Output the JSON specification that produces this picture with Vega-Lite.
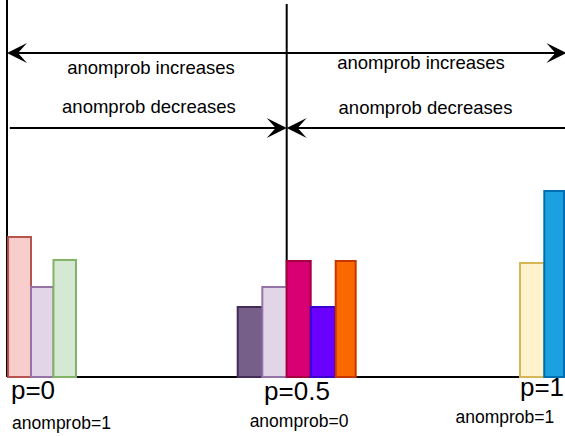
{
  "$schema": "https://vega.github.io/schema/vega-lite/v6.json",
  "width": 565,
  "height": 436,
  "padding": 0,
  "autosize": {"type": "none"},
  "background": "white",
  "config": {"view": {"stroke": null}},
  "datasets": {
    "lines": [
      {"x": 0, "x2": 0, "y": 0, "y2": 380},
      {"x": 0.5, "x2": 0.5, "y": 0, "y2": 373},
      {"x": 0, "x2": 1, "y": 0, "y2": 0},
      {"x": 0.015, "x2": 0.985, "y": 324, "y2": 324},
      {"x": 0.005, "x2": 0.485, "y": 249, "y2": 249},
      {"x": 0.515, "x2": 1, "y": 249, "y2": 249}
    ],
    "bars": [
      {"bar": "b1", "x": 0.002, "x2": 0.0429, "h": 140},
      {"bar": "b2", "x": 0.0429, "x2": 0.0831, "h": 90},
      {"bar": "b3", "x": 0.0831, "x2": 0.1233, "h": 117},
      {"bar": "b4", "x": 0.4124, "x2": 0.4564, "h": 70},
      {"bar": "b5", "x": 0.4564, "x2": 0.5, "h": 90},
      {"bar": "b6", "x": 0.5, "x2": 0.5429, "h": 116},
      {"bar": "b7", "x": 0.5429, "x2": 0.5863, "h": 70},
      {"bar": "b8", "x": 0.5876, "x2": 0.6233, "h": 116},
      {"bar": "b9", "x": 0.9171, "x2": 0.9605, "h": 114},
      {"bar": "b10", "x": 0.9605, "x2": 0.9957, "h": 186}
    ],
    "headsRight": [
      {"x": 1, "y": 324},
      {"x": 0.5, "y": 249}
    ],
    "headsLeft": [
      {"x": 0, "y": 324},
      {"x": 0.5, "y": 249}
    ],
    "topText": [
      {"label": "anomprob increases", "x": 0.2574, "y": 303},
      {"label": "anomprob increases", "x": 0.7401, "y": 308},
      {"label": "anomprob decreases", "x": 0.2538, "y": 264},
      {"label": "anomprob decreases", "x": 0.7481, "y": 263}
    ],
    "pText": [
      {"label": "p=0", "x": 0.0465, "y": -22},
      {"label": "p=0.5", "x": 0.5184, "y": -23},
      {"label": "p=1", "x": 0.9564, "y": -19}
    ],
    "aText": [
      {"label": "anomprob=1", "x": 0.0974, "y": -52},
      {"label": "anomprob=0", "x": 0.522, "y": -50},
      {"label": "anomprob=1", "x": 0.89, "y": -46}
    ]
  },
  "layer": [
    {
      "data": {"name": "lines"},
      "mark": {"type": "rule", "color": "black", "strokeWidth": 2},
      "encoding": {
        "x": {"field": "x", "type": "quantitative", "axis": null, "scale": {"domain": [-0.012513, 0.9975], "nice": false, "zero": false}},
        "x2": {"field": "x2"},
        "y": {"field": "y", "type": "quantitative", "axis": null, "scale": {"domain": [-59, 377], "nice": false, "zero": false}},
        "y2": {"field": "y2"}
      }
    },
    {
      "data": {"name": "bars"},
      "mark": {"type": "rect", "strokeWidth": 2},
      "encoding": {
        "x": {"field": "x", "type": "quantitative", "axis": null, "scale": {"domain": [-0.012513, 0.9975], "nice": false, "zero": false}},
        "x2": {"field": "x2"},
        "y": {"field": "h", "type": "quantitative", "axis": null, "scale": {"domain": [-59, 377], "nice": false, "zero": false}},
        "y2": {"datum": 0},
        "fill": {"field": "bar", "type": "nominal", "legend": null, "scale": {"domain": ["b1","b2","b3","b4","b5","b6","b7","b8","b9","b10"], "range": ["#f8cecc","#e1d5e7","#d5e8d4","#76608a","#e1d5e7","#d80073","#6a00ff","#fa6800","#fff2cc","#1ba1e2"]}},
        "stroke": {"field": "bar", "type": "nominal", "legend": null, "scale": {"domain": ["b1","b2","b3","b4","b5","b6","b7","b8","b9","b10"], "range": ["#b85450","#9673a6","#82b366","#432d57","#9673a6","#a50040","#3700cc","#c73500","#d6b656","#006eaf"]}}
      }
    },
    {
      "data": {"name": "headsRight"},
      "mark": {"type": "point", "shape": "M0,0L-2,-1L-1.1,0L-2,1Z", "size": 400, "filled": true, "color": "black", "opacity": 1, "strokeWidth": 0},
      "encoding": {
        "x": {"field": "x", "type": "quantitative", "axis": null, "scale": {"domain": [-0.012513, 0.9975], "nice": false, "zero": false}},
        "y": {"field": "y", "type": "quantitative", "axis": null, "scale": {"domain": [-59, 377], "nice": false, "zero": false}}
      }
    },
    {
      "data": {"name": "headsLeft"},
      "mark": {"type": "point", "shape": "M0,0L2,-1L1.1,0L2,1Z", "size": 400, "filled": true, "color": "black", "opacity": 1, "strokeWidth": 0},
      "encoding": {
        "x": {"field": "x", "type": "quantitative", "axis": null, "scale": {"domain": [-0.012513, 0.9975], "nice": false, "zero": false}},
        "y": {"field": "y", "type": "quantitative", "axis": null, "scale": {"domain": [-59, 377], "nice": false, "zero": false}}
      }
    },
    {
      "data": {"name": "topText"},
      "mark": {"type": "text", "font": "Liberation Sans", "fontSize": 18.5, "align": "center", "baseline": "alphabetic", "color": "black"},
      "encoding": {
        "x": {"field": "x", "type": "quantitative", "axis": null, "scale": {"domain": [-0.012513, 0.9975], "nice": false, "zero": false}},
        "y": {"field": "y", "type": "quantitative", "axis": null, "scale": {"domain": [-59, 377], "nice": false, "zero": false}},
        "text": {"field": "label"}
      }
    },
    {
      "data": {"name": "pText"},
      "mark": {"type": "text", "font": "Liberation Sans", "fontSize": 26, "align": "center", "baseline": "alphabetic", "color": "black"},
      "encoding": {
        "x": {"field": "x", "type": "quantitative", "axis": null, "scale": {"domain": [-0.012513, 0.9975], "nice": false, "zero": false}},
        "y": {"field": "y", "type": "quantitative", "axis": null, "scale": {"domain": [-59, 377], "nice": false, "zero": false}},
        "text": {"field": "label"}
      }
    },
    {
      "data": {"name": "aText"},
      "mark": {"type": "text", "font": "Liberation Sans", "fontSize": 17.5, "align": "center", "baseline": "alphabetic", "color": "black"},
      "encoding": {
        "x": {"field": "x", "type": "quantitative", "axis": null, "scale": {"domain": [-0.012513, 0.9975], "nice": false, "zero": false}},
        "y": {"field": "y", "type": "quantitative", "axis": null, "scale": {"domain": [-59, 377], "nice": false, "zero": false}},
        "text": {"field": "label"}
      }
    }
  ]
}
